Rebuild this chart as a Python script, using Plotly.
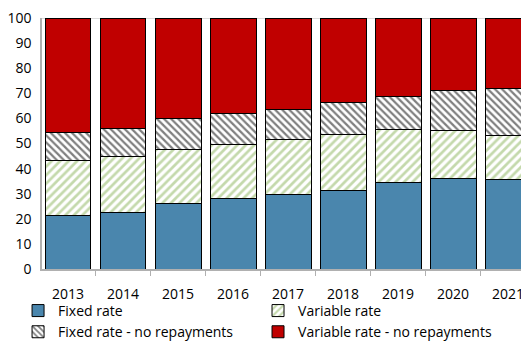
import plotly.graph_objects as go

years = ["2013", "2014", "2015", "2016", "2017", "2018", "2019", "2020", "2021"]
fixed = [21.2, 22.6, 26.2, 28.0, 29.8, 31.4, 34.3, 36.1, 35.7]
variable = [22.2, 22.1, 21.6, 21.7, 21.9, 22.3, 21.1, 18.9, 17.3]
fixed_norep = [11.1, 11.4, 12.0, 12.1, 12.0, 12.7, 13.5, 16.2, 19.0]
variable_norep = [45.5, 43.9, 40.2, 38.2, 36.3, 33.6, 31.1, 28.8, 28.0]
yticks = [0, 10, 20, 30, 40, 50, 60, 70, 80, 90, 100]

FONT = "Open Sans, Noto Sans, sans-serif"
line = dict(color="black", width=1)

fig = go.Figure()
fig.add_bar(x=years, y=fixed, name="Fixed rate", legend="legend", legendrank=1,
            marker=dict(color="#4a86ad", line=line))
fig.add_bar(x=years, y=variable, name="Variable rate", legend="legend2", legendrank=1,
            marker=dict(color="white", line=line,
                        pattern=dict(shape="/", fgcolor="#8ab45a", bgcolor="white",
                                     size=6, solidity=0.45, fillmode="overlay")))
fig.add_bar(x=years, y=fixed_norep, name="Fixed rate - no repayments", legend="legend",
            legendrank=2,
            marker=dict(color="white", line=line,
                        pattern=dict(shape="\\", fgcolor="black", bgcolor="white",
                                     size=5, solidity=0.45, fillmode="overlay")))
fig.add_bar(x=years, y=variable_norep, name="Variable rate - no repayments",
            legend="legend2", legendrank=2,
            marker=dict(color="#c00000", line=line))

fig.add_shape(type="line", xref="paper", yref="y", x0=0, x1=1, y0=100, y1=100,
              line=dict(color="#d0d0d0", width=1.5), layer="below")

W, H = 521, 341
leg_common = dict(orientation="v", xanchor="left", yref="container", y=0.135,
                  yanchor="top", bgcolor="rgba(0,0,0,0)",
                  font=dict(family=FONT, size=14), traceorder="normal",
                  itemwidth=30, tracegroupgap=0)
fig.update_layout(
    width=W, height=H,
    margin=dict(l=42, r=0, t=18, b=72),
    barmode="stack", bargap=0.164,
    paper_bgcolor="white", plot_bgcolor="white",
    font=dict(family=FONT, size=14, color="black"),
    showlegend=True,
    legend=dict(x=-0.05, **leg_common),
    legend2=dict(x=0.451, **leg_common),
)
fig.update_xaxes(
    type="category", range=[-0.4727, 8.236], automargin=False,
    showline=True, linecolor="#b0b0b0", linewidth=1.5,
    ticks="outside", tickson="boundaries", ticklen=5, tickcolor="#b0b0b0",
    ticklabelstandoff=11, showgrid=False, tickfont=dict(size=14),
)
fig.update_yaxes(
    range=[0, 100], tickvals=yticks, ticktext=[str(v) for v in yticks],
    automargin=False,
    showline=True, linecolor="#b0b0b0", linewidth=1.5,
    showgrid=False, zeroline=False, ticks="", ticklabelstandoff=6,
    tickfont=dict(size=14),
)

fig.write_html("out.html")
